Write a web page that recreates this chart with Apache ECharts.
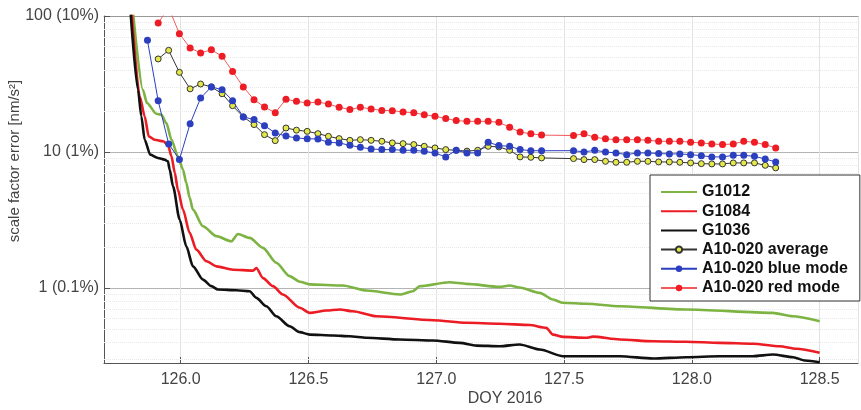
<!DOCTYPE html>
<html>
<head>
<meta charset="utf-8">
<script src="https://cdn.jsdelivr.net/npm/echarts@6/dist/echarts.min.js"></script>
<style>
  html, body { margin: 0; padding: 0; background: #fff; }
  #chart { width: 861px; height: 410px; }
</style>
</head>
<body>
<div id="chart"></div>
<script>
(function () {

    // gravimeter curves (DOY, scale factor error)
    var g1012Doy = [125.812, 125.852, 125.868, 125.905, 125.924, 125.944, 125.964, 125.989, 126.009, 126.022, 126.035, 126.048,
        126.087, 126.140, 126.198, 126.224, 126.270, 126.322, 126.374, 126.426, 126.466, 126.505, 126.634, 126.727, 126.857,
        126.908, 126.935, 127.052, 127.118, 127.248, 127.287, 127.326, 127.405, 127.457, 127.496, 127.587, 127.718, 127.978,
        128.316, 128.394, 128.5];
    var g1012Val = [115, 28.7, 22.9, 19.1, 18.8, 16.3, 12.3, 9.28, 7.41, 5.92, 4.61, 3.76,
        2.84, 2.40, 2.20, 2.49, 2.33, 1.97, 1.53, 1.22, 1.11, 1.06, 1.04, 0.955, 0.893,
        0.944, 1.027, 1.099, 1.07, 1.017, 1.04, 1.005, 0.919, 0.82, 0.776, 0.763, 0.732, 0.693,
        0.655, 0.618, 0.568];

    var g1084Doy = [125.806, 125.840, 125.859, 125.875, 125.898, 125.931, 125.950, 125.964, 125.977, 125.989, 126.009, 126.035,
        126.061, 126.101, 126.140, 126.205, 126.283, 126.296, 126.322, 126.361, 126.400, 126.466, 126.505, 126.570, 126.622,
        126.674, 126.766, 126.987, 127.118, 127.248, 127.365, 127.430, 127.457, 127.496, 127.587, 127.613, 127.718, 127.848,
        127.978, 128.109, 128.239, 128.343, 128.409, 128.5];
    var g1084Val = [121, 25.6, 18.3, 13.02, 12.3, 11.97, 11.32, 9.28, 7.01, 5.28, 3.76, 2.54,
        1.91, 1.57, 1.44, 1.36, 1.34, 1.40, 1.18, 1.03, 0.893, 0.713, 0.655, 0.681, 0.693,
        0.673, 0.618, 0.578, 0.553, 0.544, 0.533, 0.508, 0.453, 0.436, 0.429, 0.438, 0.417, 0.405,
        0.401, 0.394, 0.388, 0.372, 0.356, 0.333];

    var g1036Doy = [125.802, 125.833, 125.846, 125.859, 125.881, 125.911, 125.937, 125.950, 125.957, 125.970, 125.996, 126.022,
        126.048, 126.087, 126.120, 126.146, 126.218, 126.270, 126.296, 126.335, 126.374, 126.426, 126.466, 126.505, 126.596,
        126.661, 126.727, 126.857, 126.987, 127.092, 127.157, 127.248, 127.326, 127.405, 127.496, 127.587, 127.718, 127.848,
        127.978, 128.109, 128.239, 128.317, 128.396, 128.443, 128.5];
    var g1036Val = [121, 28.7, 18.3, 12.3, 9.55, 9.03, 8.78, 8.53, 7.41, 5.58, 3.18, 2.02,
        1.44, 1.15, 1.03, 0.972, 0.960, 0.944, 0.844, 0.732, 0.618, 0.522, 0.472, 0.453, 0.446,
        0.441, 0.429, 0.417, 0.410, 0.394, 0.376, 0.372, 0.383, 0.352, 0.314, 0.314, 0.314, 0.302,
        0.309, 0.314, 0.314, 0.323, 0.309, 0.292, 0.284];

    // A10-020 hourly solutions
    var a10Doy = [125.870, 125.912, 125.953, 125.995, 126.037, 126.078, 126.120, 126.162, 126.203, 126.245,
        126.287, 126.328, 126.370, 126.412, 126.453, 126.495, 126.537, 126.578, 126.620, 126.662,
        126.703, 126.745, 126.787, 126.828, 126.870, 126.912, 126.953, 126.995, 127.037, 127.078,
        127.120, 127.162, 127.203, 127.245, 127.287, 127.328, 127.370, 127.412,
        127.537, 127.578, 127.620, 127.662, 127.703, 127.745, 127.787, 127.828, 127.870, 127.912,
        127.953, 127.995, 128.037, 128.078, 128.120, 128.162, 128.203, 128.245, 128.287, 128.328];
    var avgVal = [null, 48.3, 55.9, 38.5, 29.1, 31.6, 30.1, 26.8, 21.9, 18.1,
        15.9, 13.4, 12.11, 15.0, 14.46, 14.17, 13.63, 13.02, 12.53, 12.17,
        12.31, 12.17, 11.97, 11.65, 11.51, 11.32, 11.0, 10.70, 10.40, 10.28,
        10.14, 10.28, 11.0, 10.88, 10.28, 9.19, 9.13, 9.03,
        8.93, 8.78, 8.78, 8.53, 8.39, 8.39, 8.53, 8.53, 8.44, 8.44,
        8.39, 8.30, 8.20, 8.16, 8.16, 8.30, 8.30, 8.30, 7.97, 7.63];
    var blueVal = [66.2, 23.8, 11.45, 8.78, 16.15, 24.95, 30.1, 28.7, 23.8, 18.1,
        17.3, 15.6, 13.8, 13.07, 12.67, 12.5, 12.46, 11.77, 11.65, 11.18,
        10.81, 10.52, 10.40, 10.40, 10.28, 10.28, 10.10, 9.83, 9.19, 10.28,
        9.83, 9.83, 11.77, 11.13, 11.0, 10.40, 10.22, 10.2,
        10.22, 10.0, 10.28, 10.0, 9.83, 9.55, 9.83, 9.83, 9.72, 9.67,
        9.67, 9.55, 9.39, 9.19, 9.19, 9.44, 9.44, 9.28, 8.88, 8.44];
    var redVal = [null, 88.8, 115, 74.1, 58.2, 53.5, 56.5, 50.5, 39.1, 30.1,
        24.2, 21.4, 19.4, 24.4, 23.6, 22.9, 23.3, 22.5, 21.3, 20.5,
        21.3, 20.7, 20.2, 20.1, 19.7, 19.4, 18.8, 18.3, 17.6, 17.0,
        16.8, 16.8, 16.8, 16.5, 15.2, 14.0, 13.6, 13.3,
        13.2, 13.6, 12.8, 12.5, 12.3, 12.3, 12.3, 12.2, 11.97, 11.97,
        11.97, 11.77, 11.65, 11.45, 11.32, 11.45, 11.97, 11.77, 11.32, 10.70];

    var yTickLabels = {1: '1 (0.1%)', 10: '10 (1%)', 100: '100 (10%)'};
    var minorGrid = [0.3, 0.4, 0.5, 0.6, 0.7, 0.8, 0.9, 2, 3, 4, 5, 6, 7, 8, 9, 20, 30, 40, 50, 60, 70, 80, 90];

    function pairs(xs, ys) {
        var out = [];
        for (var i = 0; i < xs.length; i++) {
            out.push([xs[i], ys[i]]);
        }
        return out;
    }

    var font = '"Liberation Sans", Arial, sans-serif';
    var myChart = echarts.init(document.getElementById('chart'));

    // plain line in legend for the continuous curves
    var lineOnly = {opacity: 0};

    var option = {
        animation: false,
        textStyle: {fontFamily: font},
        grid: {left: 104, right: 3, top: 16, bottom: 47},
        legend: {
            orient: 'vertical',
            left: 650,
            top: 175,
            padding: [9, 12, 5, 10],
            itemWidth: 36,
            itemHeight: 8,
            itemGap: 3.2,
            backgroundColor: '#fff',
            borderColor: '#333',
            borderWidth: 1,
            borderRadius: 0,
            textStyle: {fontSize: 16, fontWeight: 'bold', color: '#111', fontFamily: font},
            data: [
                {name: 'G1012', itemStyle: lineOnly},
                {name: 'G1084', itemStyle: lineOnly},
                {name: 'G1036', itemStyle: lineOnly},
                'A10-020 average',
                'A10-020 blue mode',
                'A10-020 red mode'
            ]
        },
        xAxis: [
            {
                type: 'value',
                min: 125.7,
                max: 128.65,
                splitNumber: 5,
                axisLine: {lineStyle: {color: '#555', width: 1}},
                axisTick: {inside: true, length: 6, lineStyle: {color: '#555'}},
                axisLabel: {
                    showMinLabel: false,
                    showMaxLabel: false,
                    fontSize: 16,
                    color: '#444',
                    margin: 9,
                    formatter: function (v) { return v.toFixed(1); }
                },
                splitLine: {lineStyle: {color: '#e2e2e2', width: 1}}
            },
            {
                type: 'value',
                position: 'top',
                min: 125.7,
                max: 128.65,
                axisLine: {onZero: false, lineStyle: {color: '#999', width: 1}},
                axisTick: {show: false},
                axisLabel: {show: false},
                splitLine: {show: false}
            }
        ],
        yAxis: {
            type: 'log',
            logBase: 10,
            min: 0.28,
            max: 100,
            axisLine: {show: true, lineStyle: {color: '#555', width: 1}},
            axisTick: {show: true, inside: true, length: 6, lineStyle: {color: '#555'}},
            axisLabel: {
                fontSize: 16,
                color: '#444',
                margin: 5,
                formatter: function (v) {
                    var key = Math.round(v * 1000) / 1000;
                    return yTickLabels[key] || '';
                }
            },
            splitLine: {lineStyle: {color: '#b4b4b4', width: 1}}
        },
        graphic: [
            {
                type: 'text',
                x: 15,
                y: 161,
                rotation: Math.PI / 2,
                style: {
                    text: 'scale factor error [nm/s²]',
                    font: '15px ' + font,
                    fill: '#444',
                    align: 'center',
                    verticalAlign: 'middle',
                    textAlign: 'center',
                    textVerticalAlign: 'middle'
                }
            },
            {
                type: 'text',
                x: 505,
                y: 399,
                style: {
                    text: 'DOY 2016',
                    font: '16px ' + font,
                    fill: '#444',
                    align: 'center',
                    verticalAlign: 'middle',
                    textAlign: 'center',
                    textVerticalAlign: 'middle'
                }
            }
        ],
        series: [
            {
                name: 'G1012',
                type: 'line',
                data: pairs(g1012Doy, g1012Val),
                symbol: 'none',
                smooth: 0.25,
                smoothMonotone: 'x',
                color: '#7cb342',
                lineStyle: {width: 2.6, color: '#7cb342'},
                z: 3,
                markLine: {
                    silent: true,
                    symbol: 'none',
                    label: {show: false},
                    lineStyle: {color: '#e8e8e8', type: 'dotted', width: 1},
                    data: minorGrid.map(function (v) { return {yAxis: v}; }),
                    z: 1
                }
            },
            {
                name: 'G1084',
                type: 'line',
                data: pairs(g1084Doy, g1084Val),
                symbol: 'none',
                smooth: 0.25,
                smoothMonotone: 'x',
                color: '#ec1c24',
                lineStyle: {width: 2.6, color: '#ec1c24'},
                z: 3
            },
            {
                name: 'G1036',
                type: 'line',
                data: pairs(g1036Doy, g1036Val),
                symbol: 'none',
                smooth: 0.25,
                smoothMonotone: 'x',
                color: '#111',
                lineStyle: {width: 2.6, color: '#111'},
                z: 3
            },
            {
                name: 'A10-020 average',
                type: 'line',
                data: pairs(a10Doy, avgVal),
                symbol: 'circle',
                symbolSize: 6,
                showAllSymbol: true,
                connectNulls: false,
                lineStyle: {width: 1, color: '#333'},
                itemStyle: {color: '#e3e84a', borderColor: '#333', borderWidth: 1},
                z: 4
            },
            {
                name: 'A10-020 blue mode',
                type: 'line',
                data: pairs(a10Doy, blueVal),
                symbol: 'circle',
                symbolSize: 7,
                showAllSymbol: true,
                lineStyle: {width: 1, color: '#2b3fbf'},
                itemStyle: {color: '#2b3fbf'},
                z: 4
            },
            {
                name: 'A10-020 red mode',
                type: 'line',
                data: pairs(a10Doy, redVal),
                symbol: 'circle',
                symbolSize: 7,
                showAllSymbol: true,
                lineStyle: {width: 1, color: '#f25a5a'},
                itemStyle: {color: '#ee1c24'},
                z: 4
            }
        ]
    };

    myChart.setOption(option);

})();
</script>
</body>
</html>
